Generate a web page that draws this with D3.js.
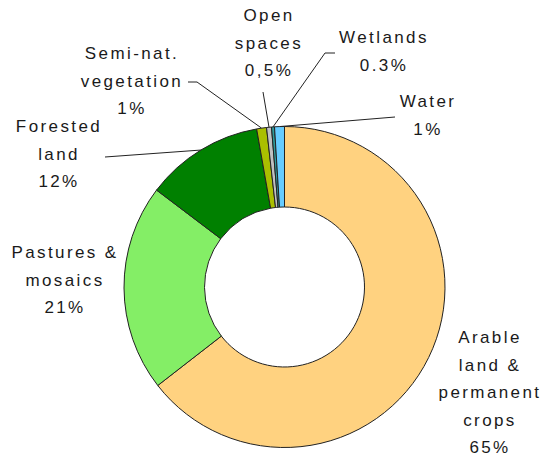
<!DOCTYPE html>
<meta charset="utf-8">
<script src="https://d3js.org/d3.v7.min.js"></script>
<style>
  body { margin: 0; background: #fff; }
  .lbl { font-family: "Liberation Sans", Arial, sans-serif; font-size: 17px; letter-spacing: 2.4px; fill: #1a1a1a; }
</style>
<div id="chart"></div>
<script>
// land cover shares (%)
var categories = ["Arable land & permanent crops", "Pastures & mosaics", "Forested land",
                  "Semi-nat. vegetation", "Open spaces", "Wetlands", "Water"];
var values = [65, 21, 12, 1, 0.5, 0.3, 1];
var labelLines = [
  ["Arable", "land &", "permanent", "crops", "65%"],
  ["Pastures &", "mosaics", "21%"],
  ["Forested", "land", "12%"],
  ["Semi-nat.", "vegetation", "1%"],
  ["Open", "spaces", "0,5%"],
  ["Wetlands", "0.3%"],
  ["Water", "1%"]
];
var colors = ["#FFD280", "#84EE66", "#008000", "#AABF00", "#C0C0C0", "#2E9A9A", "#66CCFF"];

var width = 544, height = 462;
var cx = 284.5, cy = 287, outerR = 160.5, innerR = 80;

// label placement: centre x, first baseline, leader start/elbow
var labelPos = [
  {x: 490, y: 343, lead: null},
  {x: 65, y: 258, lead: null},
  {x: 59, y: 132, lead: [[105, 157]]},
  {x: 132, y: 59, lead: [[188, 82], [197, 82]]},
  {x: 269, y: 21, lead: [[263, 92]]},
  {x: 384, y: 43, lead: [[335, 53], [325, 53]]},
  {x: 428, y: 107, lead: [[395, 117]]}
];
var lineH = 27.5;

var svg = d3.select("#chart").append("svg")
  .attr("width", width)
  .attr("height", height);

var g = svg.append("g").attr("transform", "translate(" + cx + "," + cy + ")");

var pie = d3.pie().sort(null).value(function(d) { return d; });
var arcs = pie(values);

var arc = d3.arc().innerRadius(innerR).outerRadius(outerR);
var edge = d3.arc().innerRadius(outerR).outerRadius(outerR);

g.selectAll("path.slice")
  .data(arcs)
  .enter()
  .append("path")
  .attr("class", "slice")
  .attr("d", arc)
  .attr("fill", function(d, i) { return colors[i]; })
  .attr("stroke", "#222")
  .attr("stroke-width", 1);

// leader lines
var line = d3.line();
arcs.forEach(function(d, i) {
  var p = labelPos[i];
  if (!p.lead) return;
  var c = edge.centroid(d);
  var pts = p.lead.slice();
  pts.push([c[0] + cx, c[1] + cy]);
  svg.append("path")
    .attr("d", line(pts))
    .attr("fill", "none")
    .attr("stroke", "#222")
    .attr("stroke-width", 1);
});

// labels
labelLines.forEach(function(lines, i) {
  var p = labelPos[i];
  var t = svg.append("text")
    .attr("class", "lbl")
    .attr("text-anchor", "middle");
  lines.forEach(function(s, j) {
    t.append("tspan")
      .attr("x", p.x)
      .attr("y", p.y + j * lineH)
      .text(s);
  });
});
</script>
